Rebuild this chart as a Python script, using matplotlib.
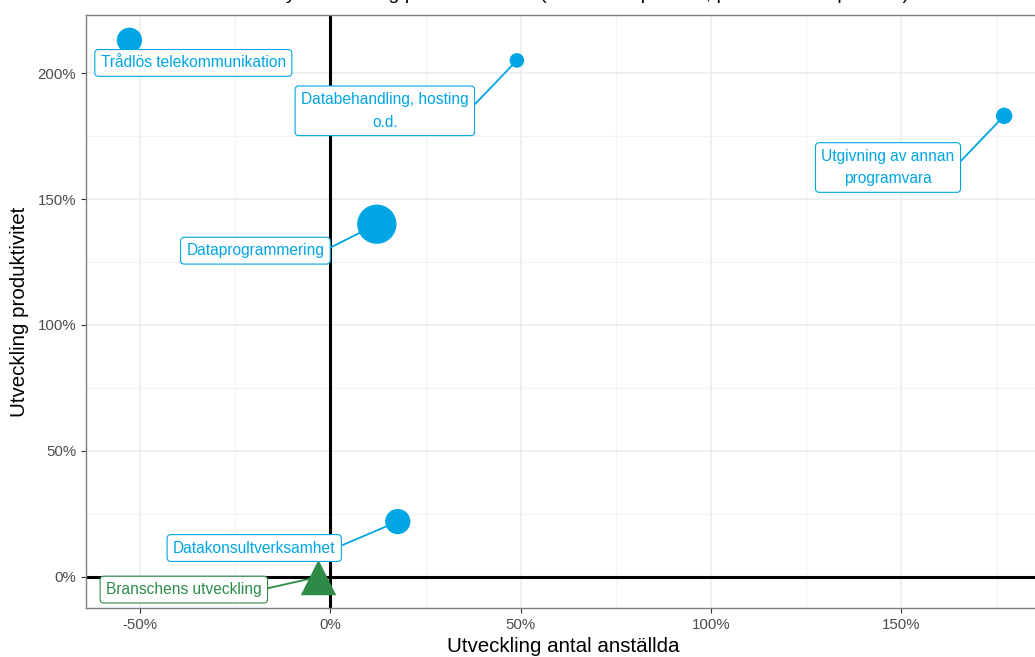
import matplotlib
matplotlib.use("Agg")
import matplotlib.pyplot as plt
from matplotlib.ticker import FixedLocator, FuncFormatter

plt.rcParams['font.family'] = ['Liberation Sans', 'DejaVu Sans']

# ---- data ----
names = ["Trådlös telekommunikation", "Databehandling, hosting\no.d.",
         "Utgivning av annan\nprogramvara", "Dataprogrammering",
         "Datakonsultverksamhet"]
emp_change = [-0.528, 0.49, 1.77, 0.122, 0.177]
prod_change = [2.13, 2.05, 1.83, 1.40, 0.22]
sizes = [330, 110, 140, 800, 330]
label_x = [-0.36, 0.143, 1.465, -0.197, -0.2]
label_y = [2.04, 1.85, 1.625, 1.295, 0.115]
draw_segment = [False, True, True, True, True]

total_name = "Branschens utveckling"
total_emp = -0.033
total_prod = 0.0
total_label_x = -0.385
total_label_y = -0.05

x_ticks = [-0.5, 0, 0.5, 1.0, 1.5]
y_ticks = [0, 0.5, 1.0, 1.5, 2.0]

blue = "#00A5E3"
green = "#2E8B47"

fig = plt.figure(figsize=(10.35, 6.57), dpi=100)
ax = fig.add_axes([0.0831, 0.0746, 0.922, 0.9025])
ax.set_xlim(-0.642, 1.865)
ax.set_ylim(-0.123, 2.23)

ax.xaxis.set_major_locator(FixedLocator(x_ticks))
ax.yaxis.set_major_locator(FixedLocator(y_ticks))
ax.xaxis.set_minor_locator(FixedLocator([-0.25, 0.25, 0.75, 1.25, 1.75]))
ax.yaxis.set_minor_locator(FixedLocator([-0.25, 0.25, 0.75, 1.25, 1.75]))
pct = FuncFormatter(lambda v, p: f"{v*100:.0f}%")
ax.xaxis.set_major_formatter(pct)
ax.yaxis.set_major_formatter(pct)
ax.grid(True, which='major', color='#EBEBEB', lw=1.1, zorder=0)
ax.grid(True, which='minor', color='#F2F2F2', lw=0.8, zorder=0)
ax.set_axisbelow(True)
ax.tick_params(which='major', length=3.5, color='#333333', labelcolor='#4D4D4D', labelsize=10.8)
ax.tick_params(which='minor', length=0)
for s in ax.spines.values():
    s.set_color('#7F7F7F')
    s.set_linewidth(1.0)

ax.axhline(0, color='black', lw=2.2, zorder=2)
ax.axvline(0, color='black', lw=2.2, zorder=2)

ax.scatter(emp_change, prod_change, s=sizes, color=blue, zorder=4, linewidths=0)
ax.scatter([total_emp], [total_prod], s=650, marker='^', color=green, zorder=4, linewidths=0)

box_kw = dict(boxstyle='round,pad=0.38,rounding_size=0.25', fc='white', lw=0.8)

for i, n in enumerate(names):
    arrow = dict(arrowstyle='-', color=blue, lw=1.3, shrinkA=0, shrinkB=0,
                 relpos=(1.0, 0.5)) if draw_segment[i] else None
    ax.annotate(n, xy=(emp_change[i], prod_change[i]), xytext=(label_x[i], label_y[i]),
                ha='center', va='center', color=blue, fontsize=11.2, linespacing=1.65,
                bbox=dict(ec=blue, **box_kw), arrowprops=arrow, zorder=5)

ax.annotate(total_name, xy=(total_emp, total_prod), xytext=(total_label_x, total_label_y),
            ha='center', va='center', color=green, fontsize=11.2,
            bbox=dict(ec=green, **box_kw),
            arrowprops=dict(arrowstyle='-', color=green, lw=1.3, shrinkA=0, shrinkB=0,
                            relpos=(1.0, 0.5)),
            zorder=5)

ax.set_xlabel("Utveckling antal anställda", fontsize=14.8, labelpad=4)
ax.set_ylabel("Utveckling produktivitet", fontsize=14.8, labelpad=6)

fig.text(0.50, 1.008, "Produktivitet och sysselsättning per delbransch (anställda i procent, produktivitet i procent)",
         ha='center', va='center', fontsize=14)

fig.savefig("out.png", dpi=100)
